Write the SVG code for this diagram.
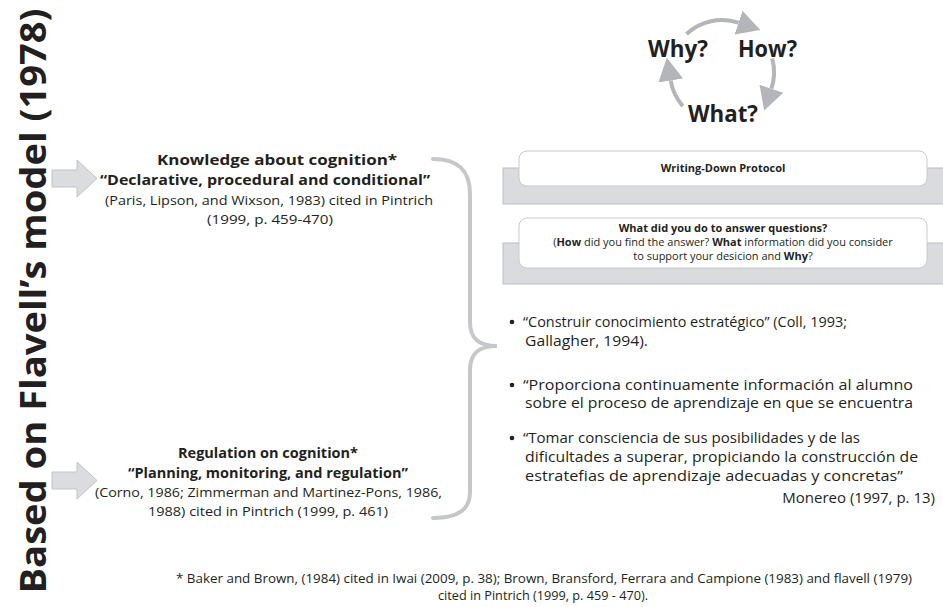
<svg xmlns="http://www.w3.org/2000/svg" width="943" height="607" viewBox="0 0 943 607">
  <style>
    text { font-family: "Open Sans", "Liberation Sans", sans-serif; fill: #231f20; }
    .title { font-size: 36px; font-weight: 700; }
    .head { font-size: 13.5px; font-weight: 700; }
    .ref { font-size: 13px; }
    .cyc { font-size: 23px; font-weight: 700; }
    .box { fill: #ffffff; stroke: #c9cacd; stroke-width: 1; }
    .band { fill: #dadbde; stroke: #bdbec2; stroke-width: 1; }
    .btxt { font-size: 11px; }
    .b { font-weight: 700; }
    .bul { font-size: 15px; }
    .foot { font-size: 13px; }
    .blk { fill: #dbdcdf; stroke: #c3c4c8; stroke-width: 1; }
    .arc { fill: none; stroke: #b4b5ba; stroke-width: 4; }
    .brace { fill: none; stroke: #c6c7cb; stroke-width: 4; stroke-linecap: round; }
  </style>
  <defs>
    <marker id="tri" markerUnits="userSpaceOnUse" markerWidth="26" markerHeight="28" viewBox="0 -14 26 28" refX="0" refY="0" orient="auto">
      <path d="M0,-12.5 L23,0 L0,12.5 Z" fill="#b4b5ba"/>
    </marker>
    <path id="blockArrow" d="M52,170 L77,170 L77,160 L97,178.5 L77,197 L77,187 L52,187 Z"/>
  </defs>

  <rect width="943" height="607" fill="#ffffff"/>

  <!-- vertical title -->
  <g id="title">
    <text class="title" transform="translate(46,301) rotate(-90)" text-anchor="middle" textLength="585" lengthAdjust="spacingAndGlyphs">Based on Flavell’s model (1978)</text>
  </g>

  <!-- connectors: block arrows, brace and the question cycle -->
  <g id="connectors">
    <use href="#blockArrow" class="blk"/>
    <use href="#blockArrow" class="blk" transform="translate(0,302)"/>
    <path class="brace" d="M433,159 C458,159 470,170 470,194 L470,322 C470,338 478,346 497,346 C478,346 470,354 470,370 L470,492 C470,510 458,518 433,518"/>
    <path class="arc" d="M686.5,34 A52,52 0 0 1 738.5,22.7" marker-end="url(#tri)"/>
    <path class="arc" d="M772.2,58.5 A52,52 0 0 1 771.4,88.7" marker-end="url(#tri)"/>
    <path class="arc" d="M682.8,106.1 A52,52 0 0 1 670.7,80.5" marker-end="url(#tri)"/>
  </g>

  <!-- question cycle labels -->
  <g id="cycle">
    <text class="cyc" x="648" y="57" textLength="60" lengthAdjust="spacingAndGlyphs">Why?</text>
    <text class="cyc" x="738" y="57" textLength="59" lengthAdjust="spacingAndGlyphs">How?</text>
    <text class="cyc" x="688" y="122" textLength="70" lengthAdjust="spacingAndGlyphs">What?</text>
  </g>

  <!-- knowledge about cognition -->
  <g id="knowledge">
    <text class="head" x="157" y="165" textLength="240" lengthAdjust="spacingAndGlyphs">Knowledge about cognition*</text>
    <text class="head" x="100" y="185" textLength="330" lengthAdjust="spacingAndGlyphs">“Declarative, procedural and conditional”</text>
    <text class="ref" x="105" y="205" textLength="328" lengthAdjust="spacingAndGlyphs">(Paris, Lipson, and Wixson, 1983) cited in Pintrich</text>
    <text class="ref" x="207" y="224" textLength="126" lengthAdjust="spacingAndGlyphs">(1999, p. 459-470)</text>
  </g>

  <!-- regulation on cognition -->
  <g id="regulation">
    <text class="head" x="178" y="458" textLength="180" lengthAdjust="spacingAndGlyphs">Regulation on cognition*</text>
    <text class="head" x="128" y="478" textLength="280" lengthAdjust="spacingAndGlyphs">“Planning, monitoring, and regulation”</text>
    <text class="ref" x="95" y="497" textLength="347" lengthAdjust="spacingAndGlyphs">(Corno, 1986; Zimmerman and Martinez-Pons, 1986,</text>
    <text class="ref" x="148" y="516" textLength="240" lengthAdjust="spacingAndGlyphs">1988) cited in Pintrich (1999, p. 461)</text>
  </g>

  <!-- protocol box -->
  <g id="protocol">
    <rect class="band" x="503" y="168" width="445" height="36"/>
    <rect class="box" x="519" y="151" width="408" height="35" rx="8"/>
    <text class="btxt b" x="723" y="172" text-anchor="middle">Writing-Down Protocol</text>
  </g>

  <!-- guiding questions box -->
  <g id="questions">
    <rect class="band" x="503" y="243" width="445" height="41"/>
    <rect class="box" x="519" y="218" width="408" height="50" rx="8"/>
    <text class="btxt b" x="723" y="232" text-anchor="middle">What did you do to answer questions?</text>
    <text class="btxt" x="723" y="246" text-anchor="middle">(<tspan class="b">How</tspan> did you find the answer? <tspan class="b">What</tspan> information did you consider</text>
    <text class="btxt" x="723" y="260" text-anchor="middle">to support your desicion and <tspan class="b">Why</tspan>?</text>
  </g>

  <!-- bullet list -->
  <g id="bullets">
    <circle cx="512" cy="322" r="2.3" fill="#231f20"/>
    <circle cx="512" cy="385" r="2.3" fill="#231f20"/>
    <circle cx="512" cy="438" r="2.3" fill="#231f20"/>
    <text class="bul" x="523" y="327" textLength="324" lengthAdjust="spacingAndGlyphs">“Construir conocimiento estratégico” (Coll, 1993;</text>
    <text class="bul" x="525" y="346" textLength="123" lengthAdjust="spacingAndGlyphs">Gallagher, 1994).</text>
    <text class="bul" x="523" y="390" textLength="390" lengthAdjust="spacingAndGlyphs">“Proporciona continuamente información al alumno</text>
    <text class="bul" x="525" y="408" textLength="388" lengthAdjust="spacingAndGlyphs">sobre el proceso de aprendizaje en que se encuentra</text>
    <text class="bul" x="523" y="443" textLength="337" lengthAdjust="spacingAndGlyphs">“Tomar consciencia de sus posibilidades y de las</text>
    <text class="bul" x="525" y="462" textLength="393" lengthAdjust="spacingAndGlyphs">dificultades a superar, propiciando la construcción de</text>
    <text class="bul" x="525" y="481" textLength="378" lengthAdjust="spacingAndGlyphs">estratefias de aprendizaje adecuadas y concretas”</text>
    <text class="bul" x="935" y="503" text-anchor="end">Monereo (1997, p. 13)</text>
  </g>

  <!-- footnote -->
  <g id="footnote">
    <text class="foot" x="176" y="583" textLength="736" lengthAdjust="spacingAndGlyphs">* Baker and Brown, (1984) cited in Iwai (2009, p. 38); Brown, Bransford, Ferrara and Campione (1983) and flavell (1979)</text>
    <text class="foot" x="438" y="600" textLength="210" lengthAdjust="spacingAndGlyphs">cited in Pintrich (1999, p. 459 - 470).</text>
  </g>
</svg>
